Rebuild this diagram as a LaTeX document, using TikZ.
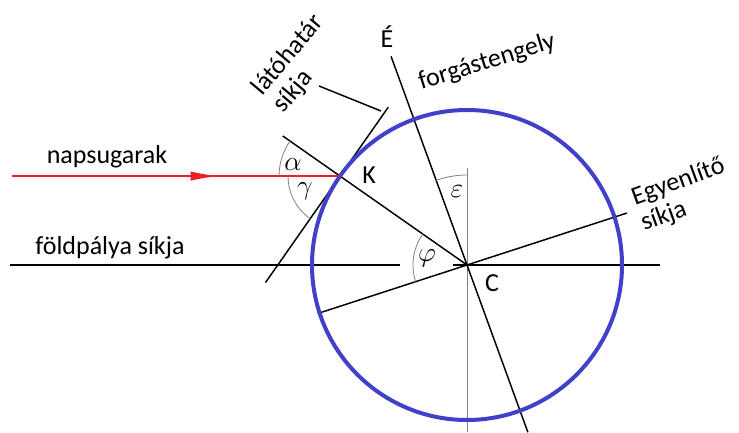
\documentclass[tikz,border=0pt]{standalone}
\usepackage{amsmath}
\usepackage{fontspec}
\setmainfont{Carlito}
\usepackage{tikz}
\usetikzlibrary{calc}
\usetikzlibrary{arrows.meta}

\definecolor{earthblue}{RGB}{64,64,200}
\definecolor{sunred}{RGB}{232,32,40}

\begin{document}
\begin{tikzpicture}[x=0.75pt,y=0.75pt,
        txt/.style={font=\fontsize{19.5}{20.5}\selectfont},
        grk/.style={font=\fontsize{20.74}{24}\selectfont},
        ln/.style={line width=1.1pt},
        thinarc/.style={gray,line width=0.6pt}]
        \useasboundingbox (0,0) rectangle (739,432);
        \coordinate (C) at (467,167);
        \coordinate (K) at ($(C)+(145:155)$);
        % horizontal plane and vertical
        \coordinate (h0) at (10,167);
        \coordinate (h1) at (400,167);
        \coordinate (h2) at (453,167);
        \coordinate (h3) at (660,167);
        \draw[ln] (h0) -- (h1);
        \draw[ln] (h2) -- (h3);
        \coordinate (v0) at (467,264);
        \coordinate (v1) at (467,0);
        \draw[thinarc] (v0) -- (v1);
        % axis, equator, zenith line, horizon
        \coordinate (ax0) at ($(C)+(110:222)$);
        \coordinate (ax1) at ($(C)+(-70:178)$);
        \draw[ln] (ax0) -- (ax1);
        \coordinate (eq0) at ($(C)+(198:157)$);
        \coordinate (eq1) at ($(C)+(18:168)$);
        \draw[ln] (eq0) -- (eq1);
        \coordinate (ck) at ($(C)+(145:225)$);
        \draw[ln] (C) -- (ck);
        \coordinate (t0) at ($(K)+(55:84)$);
        \coordinate (t1) at ($(K)+(235:130)$);
        \draw[ln] (t0) -- (t1);
        \coordinate (p0) at (319,346);
        \coordinate (p1) at (381,321);
        \draw[ln] (p0) -- (p1);
        % earth
        \draw[earthblue,line width=3pt] (C) circle (155);
        % sun ray
        \coordinate (S) at ($(K)+(-328,0)$);
        \coordinate (arr) at ($(K)+(-120,0)$);
        \draw[sunred,line width=1.8pt] (S) -- (K);
        \draw[sunred,line width=1.8pt,-{Latex[length=22pt,width=7pt]}] (S) -- (arr);
        % angles
        \draw[thinarc] ($(K)+(145:61)$) arc[start angle=145,end angle=180,radius=61];
        \draw[thinarc] ($(K)+(180:52)$) arc[start angle=180,end angle=235,radius=52];
        \draw[thinarc] ($(C)+(145:54)$) arc[start angle=145,end angle=198,radius=54];
        \draw[thinarc] ($(C)+(90:90)$) arc[start angle=90,end angle=110,radius=90];
        \node[grk] (alpha) at (293,267) {$\alpha$};
        \node[grk] (gamma) at (305,241) {$\gamma$};
        \node[grk] (phi) at (427,174) {$\varphi$};
        \node[grk] (eps) at (457,240) {$\varepsilon$};
        % labels
        \node[txt] (north) at (387,395) {É};
        \node[txt,rotate=17] (axlbl) at (487,370) {forgástengely};
        \node[txt,rotate=50,align=left] (horlbl) at (299,368) {látóhatár\\síkja};
        \node[txt,rotate=20,align=left] (eqlbl) at (683,237) {Egyenlítő\\síkja};
        \node[txt] (raylbl) at (107,275) {napsugarak};
        \node[txt] (orblbl) at (110,184) {földpálya síkja};
        \node[txt] (Klbl) at (369,257) {K};
        \node[txt] (Clbl) at (492,149) {C};
    \end{tikzpicture}
\end{document}
